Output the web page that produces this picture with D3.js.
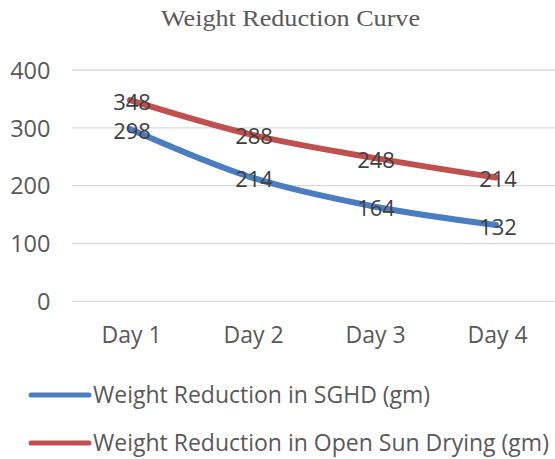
<!DOCTYPE html>
<html><head><meta charset="utf-8">
<script src="https://cdn.jsdelivr.net/npm/d3@7"></script>
<style>body{margin:0;background:#fff}svg{display:block}</style>
</head><body>
<svg id="c" width="555" height="459"></svg>
<script>
const categories = ["Day 1", "Day 2", "Day 3", "Day 4"];
const sghd = [298, 214, 164, 132];
const openSun = [348, 288, 248, 214];
const yTicks = [0, 100, 200, 300, 400];
const seriesNames = ["Weight Reduction in SGHD (gm)", "Weight Reduction in Open Sun Drying (gm)"];
const colors = ["#4A7EC0", "#C0504D"];

const svg = d3.select("#c");
const x = d3.scalePoint().domain(categories).range([69, 557]).padding(0.5);
const y = d3.scaleLinear().domain([0, 400]).range([301.3, 70]);

svg.append("text").attr("x", 290.5).attr("y", 26).attr("text-anchor", "middle")
  .attr("font-family", "Liberation Serif, Times New Roman, serif").attr("font-size", 24)
  .attr("textLength", 259).attr("lengthAdjust", "spacingAndGlyphs")
  .attr("fill", "#595959").text("Weight Reduction Curve");

// grid
svg.append("g").selectAll("line").data(yTicks).join("line")
  .attr("x1", 72).attr("x2", 555).attr("y1", d => y(d)).attr("y2", d => y(d))
  .attr("stroke", "#D9D9D9").attr("stroke-width", 1.3);
const yAxis = d3.axisLeft(y).tickValues(yTicks).tickSize(0).tickPadding(0);
const gy = svg.append("g").attr("transform", "translate(50.5,0)").call(yAxis);
gy.select(".domain").remove();
gy.selectAll("text").attr("font-family", "Open Sans, sans-serif").attr("font-size", 23.5)
  .attr("fill", "#595959").attr("dy", "0.35em");

const xAxis = d3.axisBottom(x).tickSize(0).tickPadding(0);
const gx = svg.append("g").attr("transform", "translate(1,343)").call(xAxis);
gx.select(".domain").remove();
gx.selectAll("text").attr("font-family", "Open Sans, sans-serif").attr("font-size", 23)
  .attr("fill", "#595959").attr("dy", "0");

const line = d3.line().x((d, i) => x(categories[i])).y(d => y(d)).curve(d3.curveCatmullRom.alpha(0.5));
[sghd, openSun].forEach((s, k) => {
  svg.append("path").attr("d", line(s)).attr("fill", "none").attr("stroke", colors[k])
    .attr("stroke-width", 6).attr("stroke-linecap", "round").attr("stroke-linejoin", "round");
});
[sghd, openSun].forEach((s, k) => {
  svg.append("g").selectAll("text").data(s).join("text")
    .attr("x", (d, i) => x(categories[i]) + 2).attr("y", d => y(d) + 2)
    .attr("dy", "0.35em").attr("text-anchor", "middle")
    .attr("font-family", "Open Sans, sans-serif").attr("font-size", 22).attr("fill", "#404040")
    .text(d => d);
});

const leg = svg.append("g");
seriesNames.forEach((n, k) => {
  const yy = 395 + k * 48;
  leg.append("line").attr("x1", 31).attr("x2", 89).attr("y1", yy).attr("y2", yy)
    .attr("stroke", colors[k]).attr("stroke-width", 5).attr("stroke-linecap", "round");
  leg.append("text").attr("x", 93).attr("y", yy).attr("dy", "0.36em")
    .attr("font-family", "Open Sans, sans-serif").attr("font-size", 23).attr("fill", "#595959").text(n);
});
</script>
</body></html>
